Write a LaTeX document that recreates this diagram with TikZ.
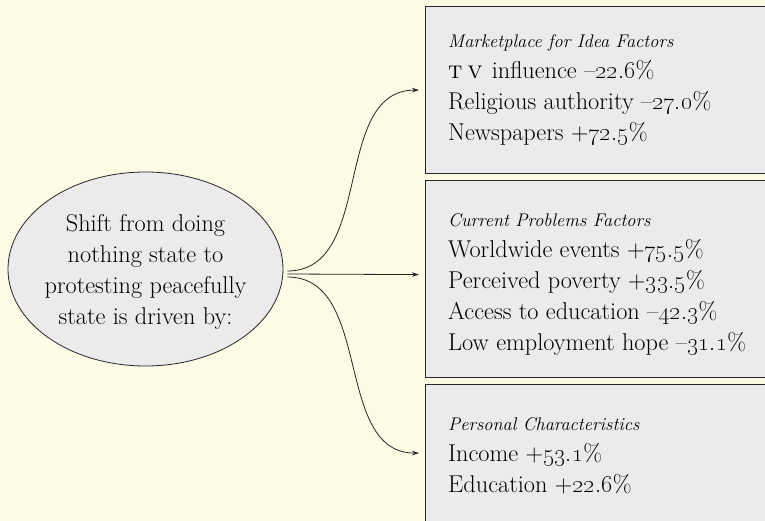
\documentclass[tikz,border=0pt]{standalone}
\usetikzlibrary{arrows.meta,shapes.geometric}
\definecolor{bgcol}{HTML}{FDFBE6}
\definecolor{boxfill}{HTML}{EBEBEB}
\definecolor{edgecol}{HTML}{262626}
\tikzset{
  factorbox/.style={draw=edgecol, fill=boxfill, line width=1.2pt, rectangle, inner sep=0pt, anchor=north west},
  factortext/.style={inner sep=0pt, align=left, anchor=west, font=\fontsize{24.3}{31}\selectfont},
  hubshape/.style={draw=edgecol, fill=boxfill, line width=0.8pt, ellipse, inner sep=0pt, minimum width=275pt, minimum height=194pt},
  hubtext/.style={inner sep=0pt, align=center, font=\fontsize{24.3}{31}\selectfont},
  conn/.style={draw=edgecol, line width=0.8pt, -{Stealth[length=7pt,width=4.5pt]}},
}
\newcommand{\factortitle}[1]{{\itshape\fontsize{18.3}{31}\selectfont #1}}
\newcommand{\osn}[1]{\oldstylenums{#1}}
\begin{document}
\begin{tikzpicture}[x=1pt,y=-1pt]
\useasboundingbox (0,0) rectangle (765,521);
\fill[bgcol] (0,0) rectangle (765,521);
\begin{scope}
\clip (0,0) rectangle (765,521);
\node[factorbox, minimum width=360pt, minimum height=167pt] (b1) at (425,6) {};
\node[factorbox, minimum width=360pt, minimum height=197pt] (b2) at (425,180) {};
\node[factorbox, minimum width=360pt, minimum height=137pt] (b3) at (425,384) {};
\end{scope}
\node[factortext] (t1) at ([shift={(23,0)}]b1.west) {\factortitle{Marketplace for Idea Factors}\\ \textsc{t\kern5pt v}\kern2pt{} influence --\osn{22.6}\%\\ Religious authority --\osn{27.0}\%\\ Newspapers +\osn{72.5}\%};
\node[factortext] (t2) at ([shift={(23,5)}]b2.west) {\factortitle{Current Problems Factors}\\ Worldwide events +\osn{75.5}\%\\ Perceived poverty +\osn{33.5}\%\\ Access to education --\osn{42.3}\%\\ Low employment hope --\osn{31.1}\%};
\node[factortext] (t3) at ([shift={(23,3)}]b3.west) {\factortitle{Personal Characteristics}\\ Income +\osn{53.1}\%\\ Education +\osn{22.6}\%};
\node[hubshape] (e) at (145.5,269) {};
\node[hubtext] (etxt) at ([shift={(0,3)}]e.center) {Shift from doing\\ nothing state to\\ protesting peacefully\\ state is driven by:};
\coordinate (s1) at ([shift={(4,2)}]e.east);
\coordinate (s2) at ([shift={(4,5)}]e.east);
\coordinate (s3) at ([shift={(4,8)}]e.east);
\draw[conn] (s1) to[out=0,in=180] ([shift={(-6,0)}]b1.west);
\draw[conn] (s2) -- ([shift={(-6,-4.5)}]b2.west);
\draw[conn] (s3) to[out=0,in=180] ([shift={(-6,0)}]b3.west);
\end{tikzpicture}
\end{document}
